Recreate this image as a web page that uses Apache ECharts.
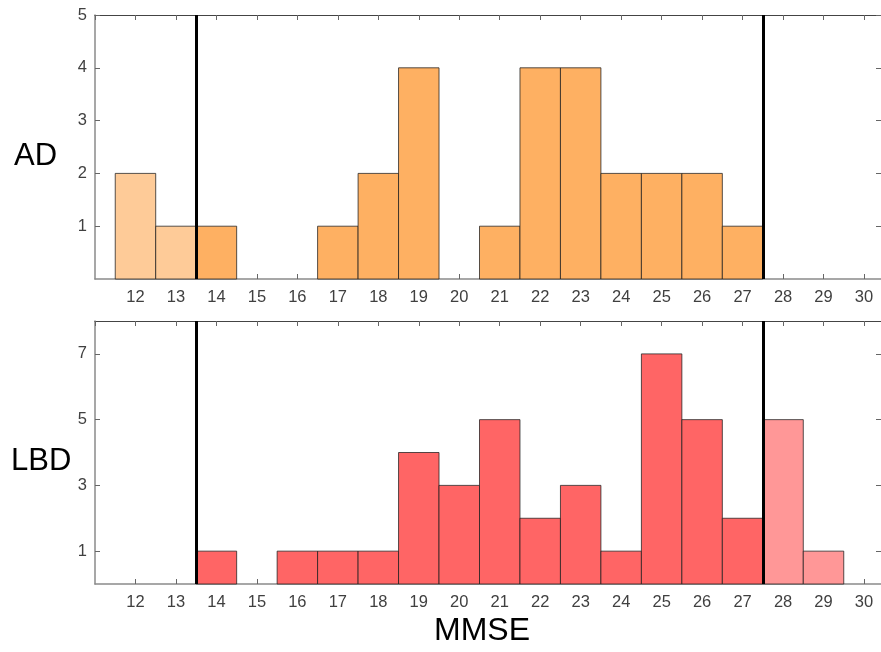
<!DOCTYPE html>
<html>
<head>
    <meta charset="utf-8">
    <title>MMSE histogram</title>
    <script src="https://cdn.jsdelivr.net/npm/echarts@6/dist/echarts.min.js"></script>
    <style>
        html, body { margin: 0; padding: 0; background: #fff; }
        #chart { width: 881px; height: 652px; }
    </style>
</head>
<body>
    <div id="chart"></div>
<script type="text/javascript">
    // MMSE bins and counts
    var mmse = [12, 13, 14, 15, 16, 17, 18, 19, 20, 21, 22, 23, 24, 25, 26, 27, 28, 29, 30];
    var adCounts  = [2, 1, 1, 0, 0, 1, 2, 4, 0, 1, 4, 4, 2, 2, 2, 1, 0, 0, 0];
    var lbdCounts = [0, 0, 1, 0, 1, 1, 1, 4, 3, 5, 2, 3, 1, 7, 5, 2, 5, 1, 0];
    var cutoffs = [13.5, 27.5];
    var adTicks = [1, 2, 3, 4, 5];
    var lbdTicks = [1, 3, 5, 7];

    var font = 'Liberation Sans, Arial, sans-serif';
    var myChart = echarts.init(document.getElementById('chart'));

    function pairs(counts) {
        var out = [];
        for (var i = 0; i < mmse.length; i++) {
            if (counts[i] > 0) out.push([mmse[i], counts[i]]);
        }
        return out;
    }

    function histSeries(idx, counts, inColor, outColor) {
        return {
            type: 'custom',
            xAxisIndex: idx * 2,
            yAxisIndex: idx * 2,
            data: pairs(counts),
            renderItem: function (params, api) {
                var x = api.value(0), y = api.value(1);
                var p0 = api.coord([x - 0.5, y]);
                var p1 = api.coord([x + 0.5, 0]);
                var out = x < cutoffs[0] || x > cutoffs[1];
                return {
                    type: 'rect',
                    shape: { x: p0[0], y: p0[1], width: p1[0] - p0[0], height: p1[1] - p0[1] },
                    style: { fill: out ? outColor : inColor, stroke: 'rgba(30,30,30,0.75)', lineWidth: 1 }
                };
            },
            markLine: {
                silent: true,
                symbol: 'none',
                label: { show: false },
                lineStyle: { color: '#000', width: 3, type: 'solid' },
                data: cutoffs.map(function (c) { return { xAxis: c }; })
            },
            z: 3
        };
    }

    function xAxes(gi) {
        var base = {
            type: 'value', gridIndex: gi, min: 11, max: 30.42, interval: 1,
            splitLine: { show: false }
        };
        return [
            Object.assign({}, base, {
                position: 'bottom',
                axisLine: { lineStyle: { color: '#8a8a8a', width: 1.5 } },
                axisTick: { inside: true, length: 5, lineStyle: { color: '#666' } },
                axisLabel: {
                    color: '#404040', fontSize: 16.5, fontFamily: font, margin: 10,
                    showMinLabel: false, showMaxLabel: false,
                    formatter: function (v) { return v > 30.5 ? '' : String(v); }
                }
            }),
            Object.assign({}, base, {
                position: 'top',
                axisLine: { onZero: false, lineStyle: { color: '#444', width: 1.2 } },
                axisTick: { inside: true, length: 5, lineStyle: { color: '#666' } },
                axisLabel: { show: false }
            })
        ];
    }

    function yAxes(gi, max, ticks) {
        return [
            {
                type: 'value', gridIndex: gi, min: 0, max: max, position: 'left',
                splitLine: { show: false },
                axisLine: { show: true, lineStyle: { color: '#8a8a8a', width: 1.5 } },
                axisTick: { show: true, inside: true, length: 5, customValues: ticks, lineStyle: { color: '#666' } },
                axisLabel: { color: '#404040', fontSize: 16.5, fontFamily: font, margin: 8, customValues: ticks }
            },
            {
                type: 'value', gridIndex: gi, min: 0, max: max, position: 'right',
                splitLine: { show: false },
                axisLine: { show: false },
                axisTick: { show: true, inside: true, length: 5, customValues: ticks, lineStyle: { color: '#666' } },
                axisLabel: { show: false }
            }
        ];
    }

    myChart.setOption({
        animation: false,
        grid: [
            { left: 95, right: -1, top: 15, height: 264 },
            { left: 95, right: -1, top: 321, height: 263 }
        ],
        xAxis: xAxes(0).concat(xAxes(1)),
        yAxis: yAxes(0, 5, adTicks).concat(yAxes(1, 8, lbdTicks)),
        series: [
            histSeries(0, adCounts, '#feb062', '#fecb98'),
            histSeries(1, lbdCounts, '#ff6565', '#ff9797')
        ],
        graphic: [
            { type: 'text', left: 14, top: 141, style: { text: 'AD', font: '31px ' + font, fill: '#000' } },
            { type: 'text', left: 11, top: 446, style: { text: 'LBD', font: '31px ' + font, fill: '#000' } },
            { type: 'text', left: 434, top: 615, style: { text: 'MMSE', font: '32px ' + font, fill: '#000' } }
        ]
    });
</script>
</body>
</html>
